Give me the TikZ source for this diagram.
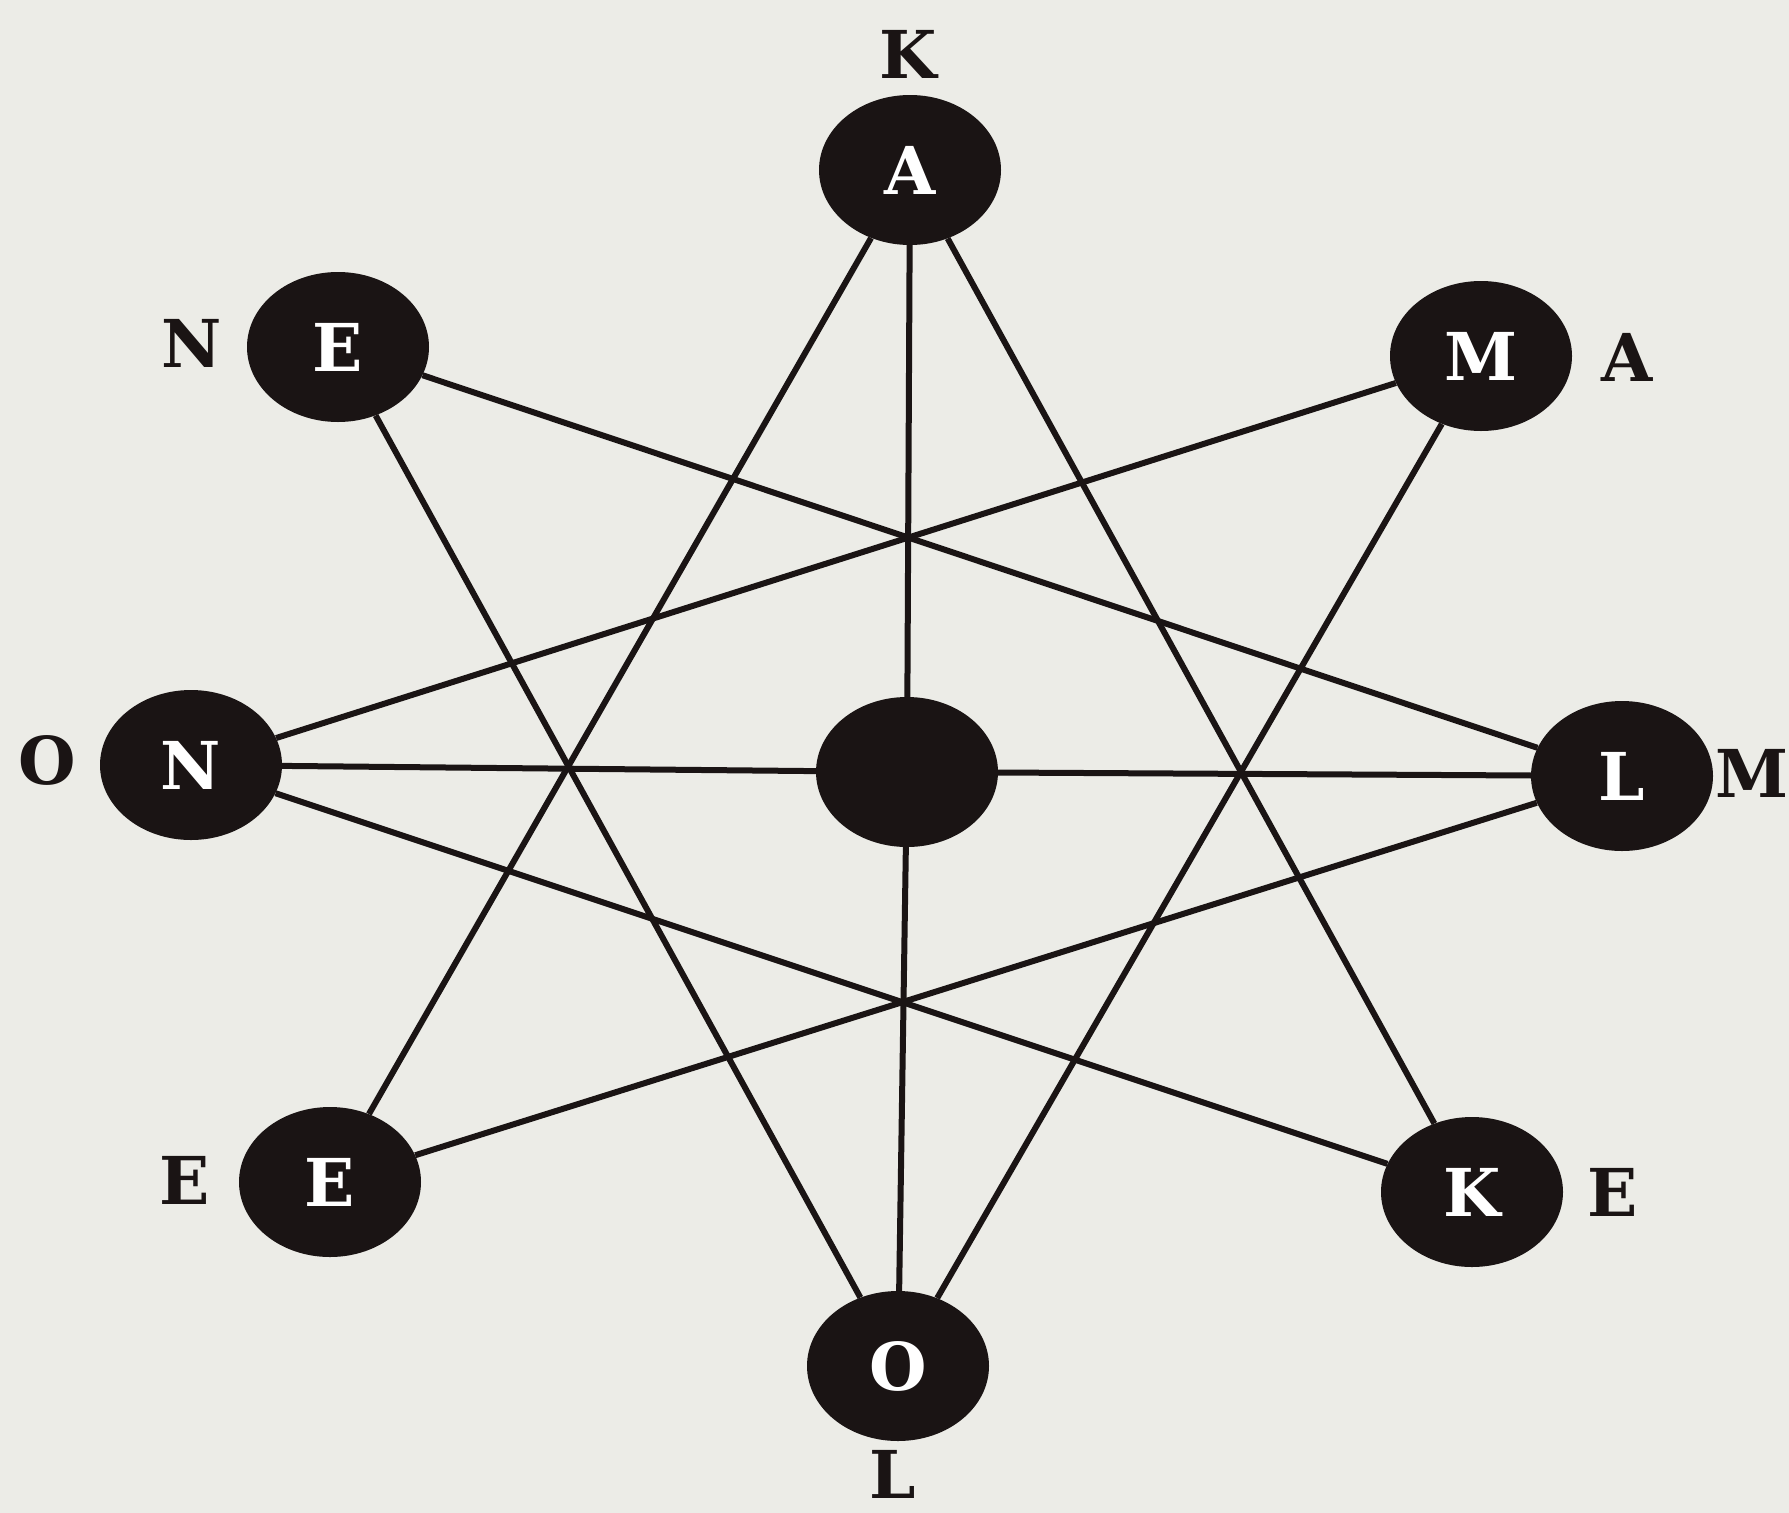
\documentclass[tikz,border=0pt]{standalone}
\usepackage{fontspec}
\setmainfont{DejaVu Serif}
\usetikzlibrary{shapes.geometric}
\definecolor{paper}{RGB}{236,236,231}
\definecolor{ink}{RGB}{26,20,20}
\begin{document}
\begin{tikzpicture}[x=1pt,y=-1pt,
  dot/.style={ellipse,fill=ink,draw=none,minimum width=182pt,minimum height=150pt,inner sep=0pt,
    text=white,font=\fontsize{66}{66}\selectfont\bfseries},
  lbl/.style={inner sep=0pt,text=ink,font=\fontsize{66}{66}\selectfont\bfseries},
  wire/.style={draw=ink,line width=6pt}]
\fill[paper] (0,0) rectangle (1789,1513);
\useasboundingbox (0,0) rectangle (1789,1513);
% nodes
\node[dot] (nA) at (910,170) {A};
\node[dot] (nM) at (1481,356) {M};
\node[dot] (nL) at (1622,776) {L};
\node[dot] (nK) at (1472,1192) {K};
\node[dot] (nO) at (898,1366) {O};
\node[dot] (nSW) at (330,1182) {E};
\node[dot] (nN) at (191,765) {N};
\node[dot] (nNW) at (338,347) {E};
\node[dot] (nC) at (907,772) {};
% outer labels
\node[lbl] (lK) at (908,54) {K};
\node[lbl] (lA) at (1627,357) {A};
\node[lbl] (lM) at (1752,773) {M};
\node[lbl] (lE1) at (1613,1192) {E};
\node[lbl] (lL) at (893,1474) {L};
\node[lbl] (lE2) at (185,1180) {E};
\node[lbl] (lO) at (47,760) {O};
\node[lbl] (lN) at (192,343) {N};
% connectors
\draw[wire] (nA) -- (nC);
\draw[wire] (nC) -- (nO);
\draw[wire] (nN) -- (nC);
\draw[wire] (nC) -- (nL);
\draw[wire] (nA) -- (nSW);
\draw[wire] (nA) -- (nK);
\draw[wire] (nM) -- (nN);
\draw[wire] (nM) -- (nO);
\draw[wire] (nL) -- (nNW);
\draw[wire] (nL) -- (nSW);
\draw[wire] (nK) -- (nN);
\draw[wire] (nO) -- (nNW);
\end{tikzpicture}
\end{document}
